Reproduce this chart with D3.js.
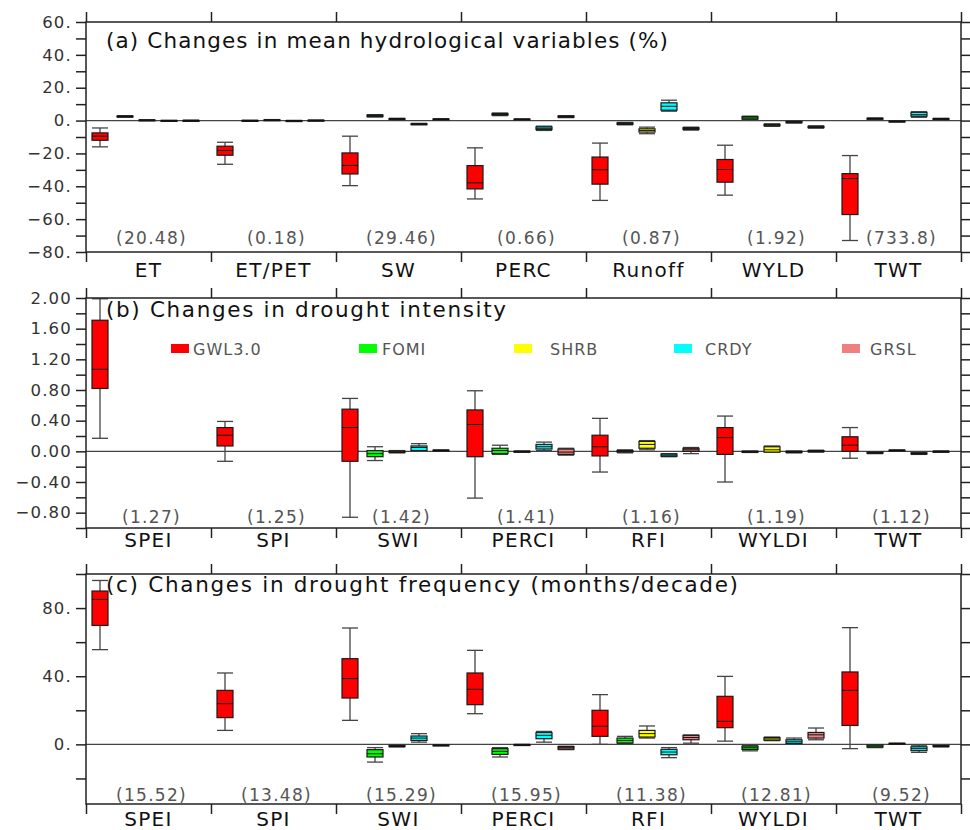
<!DOCTYPE html>
<html>
<head>
<meta charset="utf-8">
<script src="https://cdn.jsdelivr.net/npm/d3@7"></script>
<style>
  body { margin: 0; background: #fff; }
  svg { display: block; font-family: "DejaVu Sans", sans-serif; }
</style>
</head>
<body>
<div id="chart"></div>
<script>
/**
 * CONSTANTS AND GLOBALS
 * */
const width = 970,
  height = 830,
  plotLeft = 86,
  plotRight = 961,
  panelHeight = 230;

// land cover groups drawn in each category
const groups = ["GWL3.0", "FOMI", "SHRB", "CRDY", "GRSL"];
const groupColors = ["#ff0000", "#00ff00", "#ffff00", "#00ffff", "#f08080"];

// ---- panel (a) ----
const titleA = "(a) Changes in mean hydrological variables (%)";
const catsA = ["ET", "ET/PET", "SW", "PERC", "Runoff", "WYLD", "TWT"];
const notesA = ["(20.48)", "(0.18)", "(29.46)", "(0.66)", "(0.87)", "(1.92)", "(733.8)"];
const ticksA = [-80, -70, -60, -50, -40, -30, -20, -10, 0, 10, 20, 30, 40, 50, 60];
const labelsA = [-80, -60, -40, -20, 0, 20, 40, 60];
// [min, q1, median, q3, max] for GWL3.0, FOMI, SHRB, CRDY, GRSL (null = not shown)
const boxesA = [
  [[-16, -12, -9.5, -7.5, -4.5], [2.0, 2.2, 2.5, 2.8, 3.0], [0.1, 0.2, 0.3, 0.4, 0.5], [-0.1, 0, 0, 0.1, 0.1], [0, 0, 0.1, 0.1, 0.2]],
  [[-26.6, -21.1, -18.2, -15.6, -13.2], [-0.2, -0.1, 0, 0.1, 0.2], [0.2, 0.3, 0.4, 0.5, 0.6], [-0.1, 0, 0, 0, 0.1], [0, 0.1, 0.1, 0.2, 0.3]],
  [[-39.6, -32.5, -27.3, -19.7, -9.5], [2.2, 2.4, 3.0, 3.4, 3.6], [0.5, 0.8, 1.0, 1.2, 1.4], [-2.5, -2.3, -2.1, -1.9, -1.7], [0.4, 0.6, 0.8, 1.0, 1.1]],
  [[-47.7, -41.6, -37.9, -27.4, -16.6], [3.0, 3.3, 3.8, 4.3, 4.6], [0.4, 0.6, 0.8, 0.9, 1.0], [-6.0, -5.5, -4.7, -3.8, -3.4], [1.8, 2.0, 2.4, 2.8, 3.0]],
  [[-48.6, -38.7, -29.9, -22.2, -13.7], [-2.6, -2.3, -1.9, -1.4, -1.1], [-8.0, -7.0, -6.0, -5.0, -4.0], [5.7, 6.3, 8.7, 10.8, 12.4], [-5.8, -5.4, -4.9, -4.3, -4.0]],
  [[-45.4, -37.5, -29.8, -23.7, -15.0], [0.6, 0.9, 1.6, 2.4, 2.7], [-3.5, -3.2, -2.8, -2.3, -2.0], [-1.5, -1.3, -0.9, -0.5, -0.3], [-4.6, -4.3, -4.0, -3.5, -3.2]],
  [[-73.0, -57.2, -35.3, -32.3, -21.3], [0.7, 0.9, 1.2, 1.4, 1.6], [-0.8, -0.6, -0.4, -0.3, -0.2], [2.0, 2.6, 3.6, 5.0, 5.4], [0.6, 0.8, 1.0, 1.2, 1.4]]
];

// ---- panel (b) ----
const titleB = "(b) Changes in drought intensity";
const catsB = ["SPEI", "SPI", "SWI", "PERCI", "RFI", "WYLDI", "TWT"];
const notesB = ["(1.27)", "(1.25)", "(1.42)", "(1.41)", "(1.16)", "(1.19)", "(1.12)"];
const ticksB = [-1.0, -0.8, -0.6, -0.4, -0.2, 0, 0.2, 0.4, 0.6, 0.8, 1.0, 1.2, 1.4, 1.6, 1.8, 2.0];
const labelsB = [-0.8, -0.4, 0, 0.4, 0.8, 1.2, 1.6, 2.0];
const boxesB = [
  [[0.17, 0.82, 1.07, 1.71, 1.99], null, null, null, null],
  [[-0.13, 0.07, 0.21, 0.31, 0.39], null, null, null, null],
  [[-0.86, -0.13, 0.31, 0.55, 0.69], [-0.12, -0.07, -0.03, 0.01, 0.06], [-0.02, -0.015, -0.005, 0.005, 0.01], [0.01, 0.01, 0.05, 0.07, 0.10], [0, 0.005, 0.01, 0.015, 0.02]],
  [[-0.61, -0.07, 0.35, 0.54, 0.79], [-0.04, -0.03, 0.01, 0.04, 0.08], [-0.005, 0, 0, 0, 0.005], [0.01, 0.03, 0.06, 0.09, 0.12], [-0.05, -0.04, -0.01, 0.03, 0.04]],
  [[-0.27, -0.06, 0.06, 0.21, 0.43], [-0.02, -0.01, 0, 0.01, 0.02], [0.02, 0.04, 0.09, 0.13, 0.14], [-0.07, -0.065, -0.05, -0.035, -0.03], [-0.03, 0.0, 0.02, 0.04, 0.05]],
  [[-0.40, -0.04, 0.18, 0.31, 0.46], [-0.015, -0.01, -0.005, 0, 0.005], [-0.01, -0.01, 0.02, 0.06, 0.07], [-0.02, -0.015, -0.01, 0, 0.005], [-0.01, -0.005, 0, 0.01, 0.015]],
  [[-0.09, 0.0, 0.08, 0.19, 0.31], [-0.03, -0.025, -0.02, -0.01, -0.005], [0, 0.005, 0.01, 0.015, 0.02], [-0.04, -0.035, -0.03, -0.02, -0.015], [-0.005, 0, 0, 0, 0.005]]
];

// ---- panel (c) ----
const titleC = "(c) Changes in drought frequency (months/decade)";
const catsC = ["SPEI", "SPI", "SWI", "PERCI", "RFI", "WYLDI", "TWT"];
const notesC = ["(15.52)", "(13.48)", "(15.29)", "(15.95)", "(11.38)", "(12.81)", "(9.52)"];
const ticksC = [-20, 0, 20, 40, 60, 80, 100];
const labelsC = [0, 40, 80];
const boxesC = [
  [[55.6, 69.8, 85.1, 90.0, 96.2], null, null, null, null],
  [[8.2, 15.7, 23.9, 31.7, 41.9], null, null, null, null],
  [[14.1, 27.2, 38.6, 50.3, 68.3], [-10.4, -7.4, -5.5, -3.1, -1.9], [-1.5, -1.3, -1.0, -0.6, -0.4], [1.3, 2.3, 3.7, 4.9, 6.3], [-0.8, -0.6, -0.5, -0.3, -0.2]],
  [[18.0, 23.3, 32.3, 41.9, 55.2], [-7.4, -5.9, -4.1, -2.5, -1.9], [-0.4, -0.3, -0.2, -0.1, 0], [1.3, 3.3, 5.3, 7.0, 7.6], [-3.1, -2.8, -2.0, -1.3, -1.1]],
  [[0, 4.7, 10.6, 20.0, 29.2], [0.4, 0.8, 2.3, 3.7, 4.7], [3.7, 4.3, 6.3, 8.2, 10.8], [-7.8, -6.1, -4.5, -2.9, -1.9], [0.7, 2.7, 4.0, 5.3, 5.5]],
  [[1.9, 9.8, 13.5, 28.2, 39.9], [-3.8, -3.0, -2.0, -1.0, -0.5], [2.2, 2.4, 3.2, 4.0, 4.3], [0.4, 0.5, 1.5, 2.7, 3.7], [2.7, 3.7, 5.6, 7.0, 9.6]],
  [[-2.5, 11.1, 31.7, 42.5, 68.5], [-1.9, -1.6, -1.0, -0.4, -0.3], [0.3, 0.4, 0.5, 0.6, 0.7], [-4.7, -3.7, -2.5, -1.4, -0.5], [-1.5, -1.2, -1.0, -0.7, -0.5]]
];

// number formats in the style of the original plot
const minus = v => (v < 0 ? "\u2212" : "");
const fmtDot = d => minus(d) + Math.abs(d) + ".";
const fmtFix = d => minus(d) + Math.abs(d).toFixed(2);

const panels = [
  { title: titleA, titleLen: 562, titleY: 26, top: 22, domain: [-80, 60], ticks: ticksA, labels: labelsA, fmt: fmtDot,
    cats: catsA, notes: notesA, boxes: boxesA, noteDy: -8, catDy: 25 },
  { title: titleB, titleLen: 400, titleY: 19, top: 298, domain: [-1, 2], ticks: ticksB, labels: labelsB, fmt: fmtFix,
    cats: catsB, notes: notesB, boxes: boxesB, noteDy: -5, catDy: 19, legend: true },
  { title: titleC, titleLen: 632, titleY: 18, top: 574, domain: [-35, 100], ticks: ticksC, labels: labelsC, fmt: fmtDot,
    cats: catsC, notes: notesC, boxes: boxesC, noteDy: -3, catDy: 22 }
];

const legendSwatchX = [171, 359, 514, 674, 842];
const legendTextX = [193, 382, 550, 705, 870];

/**
 * DRAW
 * */
const svg = d3.select("#chart")
  .append("svg")
  .attr("width", width)
  .attr("height", height);

const color = d3.scaleOrdinal().domain(groups).range(groupColors);
// offset of each group's box from the left edge of its category
const subX = d3.scaleOrdinal().domain(groups).range([14, 39, 61, 83, 105]);
const boxW = 16;

panels.forEach(p => {
  const g = svg.append("g").attr("transform", `translate(0,${p.top})`);

  const y = d3.scaleLinear().domain(p.domain).range([panelHeight, 0]);
  const x = d3.scaleBand().domain(p.cats).range([plotLeft, plotRight]);
  const edge = d3.scaleLinear().domain([0, p.cats.length]).range([plotLeft, plotRight]);

  // zero line
  g.append("line")
    .attr("x1", plotLeft).attr("x2", plotRight)
    .attr("y1", y(0)).attr("y2", y(0))
    .attr("stroke", "#444").attr("stroke-width", 1.2);

  // boxes
  const rows = [];
  p.cats.forEach((c, i) => {
    groups.forEach((grp, j) => {
      const v = p.boxes[i][j];
      if (!v) return;
      rows.push({ cat: c, group: grp, min: v[0], q1: v[1], med: v[2], q3: v[3], max: v[4] });
    });
  });

  const box = g.selectAll("g.box")
    .data(rows)
    .join("g")
    .attr("class", "box")
    .attr("transform", d => `translate(${x(d.cat) + subX(d.group)},0)`);

  box.append("line")
    .attr("y1", d => y(d.min)).attr("y2", d => y(d.max))
    .attr("stroke", "#444").attr("stroke-width", 1.3);
  box.selectAll("line.cap")
    .data(d => [d.min, d.max])
    .join("line")
    .attr("class", "cap")
    .attr("x1", -boxW / 2).attr("x2", boxW / 2)
    .attr("y1", v => y(v)).attr("y2", v => y(v))
    .attr("stroke", "#444").attr("stroke-width", 1.3);
  box.append("rect")
    .attr("x", -boxW / 2)
    .attr("width", boxW)
    .attr("y", d => y(d.q3))
    .attr("height", d => Math.max(1, y(d.q1) - y(d.q3)))
    .attr("fill", d => color(d.group))
    .attr("stroke", "#1a1a1a").attr("stroke-width", 1.2);
  box.append("line")
    .attr("x1", -boxW / 2).attr("x2", boxW / 2)
    .attr("y1", d => y(d.med)).attr("y2", d => y(d.med))
    .attr("stroke", "#111").attr("stroke-width", 1);

  // frame
  g.append("rect")
    .attr("x", plotLeft).attr("y", 0)
    .attr("width", plotRight - plotLeft).attr("height", panelHeight)
    .attr("fill", "none").attr("stroke", "#222").attr("stroke-width", 1.5);

  // axes
  const styleAxis = sel => {
    sel.select(".domain").remove();
    sel.selectAll(".tick line").attr("stroke", "#222").attr("stroke-width", 1.5);
  };

  g.append("g")
    .attr("transform", `translate(${plotLeft},0)`)
    .call(d3.axisLeft(y).tickValues(p.ticks).tickSize(10).tickPadding(4)
      .tickFormat(d => (p.labels.some(l => Math.abs(l - d) < 1e-9) ? p.fmt(d) : "")))
    .call(styleAxis)
    .call(a => a.selectAll("text")
      .attr("font-family", "DejaVu Sans, sans-serif")
      .attr("font-size", 16.5)
      .attr("letter-spacing", 1.2)
      .attr("fill", "#333"));

  g.append("g")
    .attr("transform", `translate(${plotRight},0)`)
    .call(d3.axisRight(y).tickValues(p.ticks).tickSize(9).tickFormat(""))
    .call(styleAxis);

  g.append("g")
    .call(d3.axisTop(edge).tickValues(d3.range(p.cats.length + 1)).tickSize(10).tickFormat(""))
    .call(styleAxis);

  g.append("g")
    .attr("transform", `translate(0,${panelHeight})`)
    .call(d3.axisBottom(edge).tickValues(d3.range(p.cats.length + 1)).tickSize(10).tickFormat(""))
    .call(styleAxis);

  // title
  g.append("text")
    .attr("x", 106).attr("y", p.titleY)
    .attr("font-size", 21.5)
    .attr("fill", "#111")
    .attr("textLength", p.titleLen)
    .attr("lengthAdjust", "spacing")
    .text(p.title);

  // values in brackets
  g.selectAll("text.note")
    .data(p.cats)
    .join("text")
    .attr("class", "note")
    .attr("x", d => x(d) + x.bandwidth() / 2 + 3)
    .attr("y", panelHeight + p.noteDy)
    .attr("text-anchor", "middle")
    .attr("font-size", 17)
    .attr("letter-spacing", 1.3)
    .attr("fill", "#555")
    .text((d, i) => p.notes[i]);

  // category labels
  g.selectAll("text.cat")
    .data(p.cats)
    .join("text")
    .attr("class", "cat")
    .attr("x", d => x(d) + x.bandwidth() / 2)
    .attr("y", panelHeight + p.catDy)
    .attr("text-anchor", "middle")
    .attr("font-size", 20)
    .attr("letter-spacing", 1.3)
    .attr("fill", "#111")
    .text(d => d);

  // legend
  if (p.legend) {
    const lg = g.selectAll("g.legend")
      .data(groups)
      .join("g")
      .attr("class", "legend");
    lg.append("rect")
      .attr("x", (d, i) => legendSwatchX[i])
      .attr("y", 46)
      .attr("width", 18).attr("height", 9)
      .attr("fill", d => color(d));
    lg.append("text")
      .attr("x", (d, i) => legendTextX[i])
      .attr("y", 57)
      .attr("font-size", 16)
      .attr("letter-spacing", 1)
      .attr("fill", "#555")
      .text(d => d);
  }
});
</script>
</body>
</html>
